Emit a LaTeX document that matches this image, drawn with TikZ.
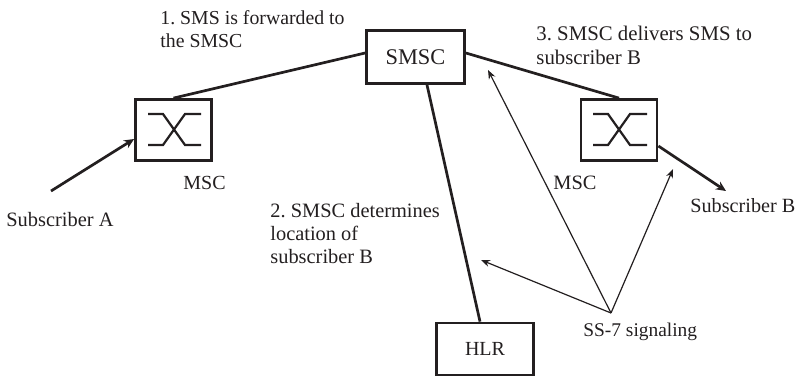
\documentclass[tikz,border=0pt]{standalone}
\usepackage{fontspec}
\setmainfont{Liberation Serif}
\usetikzlibrary{arrows.meta}
\definecolor{ink}{HTML}{231F20}
\newcommand{\fs}[1]{\fontsize{#1}{11.6}\selectfont\frenchspacing}
\tikzset{
  x=0.5pt,y=-0.5pt,
  box/.style={draw=ink,line width=1.4pt,fill=white,inner sep=0pt,text=ink},
  link/.style={draw=ink,line width=1.35pt},
  linkarrow/.style={link,-{Stealth[length=5pt,width=4.5pt]}},
  signal/.style={draw=ink,line width=0.6pt,-{Stealth[length=4.5pt,width=3.5pt]}},
  switchline/.style={draw=ink,line width=1.1pt},
  lbl/.style={inner sep=0pt,text=ink,anchor=base west},
  mlbl/.style={inner sep=0pt,text=ink,anchor=north west,align=left},
}
\begin{document}
\begin{tikzpicture}
\useasboundingbox (0,0) rectangle (796,376);
\node[box,minimum width=38pt,minimum height=30.5pt] (msca) at (173.5,130) {};
\node[box,minimum width=38pt,minimum height=30.5pt] (mscb) at (619,130) {};
\node[box,minimum width=49pt,minimum height=26.5pt,font=\fs{11.2}] (smsc) at (415.5,57) {SMSC};
\node[box,minimum width=48.5pt,minimum height=26pt,font=\fs{10}] (hlr) at (485,349) {HLR};
% switch symbols
\draw[switchline] (148,114) -- (163,114) -- (185,145) -- (201,145);
\draw[switchline] (148,145) -- (163,145) -- (185,114) -- (201,114);
\draw[switchline] (593,114) -- (608,114) -- (630,145) -- (647,145);
\draw[switchline] (593,145) -- (608,145) -- (630,114) -- (647,114);
% free ends
\coordinate (suba) at (51,191);
\coordinate (subb) at (726,191);
\coordinate (ss7) at (611,313);
\coordinate (t1) at (488,70);
\coordinate (t2) at (673,169);
\coordinate (t3) at (481,260);
% thick links
\draw[linkarrow] (suba) -- ([yshift=-4.5pt]msca.west);
\draw[link] ([yshift=2pt]smsc.west) -- (msca.north);
\draw[link] ([yshift=2pt]smsc.east) -- (mscb.north);
\draw[link] ([xshift=5.75pt]smsc.south) -- ([xshift=-2.5pt]hlr.north);
\draw[linkarrow] ([yshift=-8pt]mscb.east) -- (subb);
% signalling
\draw[signal] (ss7) -- (t1);
\draw[signal] (ss7) -- (t2);
\draw[signal] (ss7) -- (t3);
% labels
\node[mlbl,font=\fs{9.9}] (l1) at (160,10) {1. SMS is forwarded to\\the SMSC};
\node[mlbl,font=\fs{10.2}] (l2) at (270,203) {2. SMSC determines\\location of\\subscriber B};
\node[mlbl,font=\fs{10.4}] (l3) at (536,26) {3. SMSC delivers SMS to\\subscriber B};
\node[lbl,font=\fs{10}] (m1) at (183,189) {MSC};
\node[lbl,font=\fs{10.2}] (m2) at (553,189) {MSC};
\node[lbl,font=\fs{10.2}] (sa) at (6,226) {Subscriber A};
\node[lbl,font=\fs{10.1}] (sb) at (690,212) {Subscriber B};
\node[lbl,font=\fs{9.7}] (ss) at (583,336) {SS-7 signaling};
\end{tikzpicture}
\end{document}
